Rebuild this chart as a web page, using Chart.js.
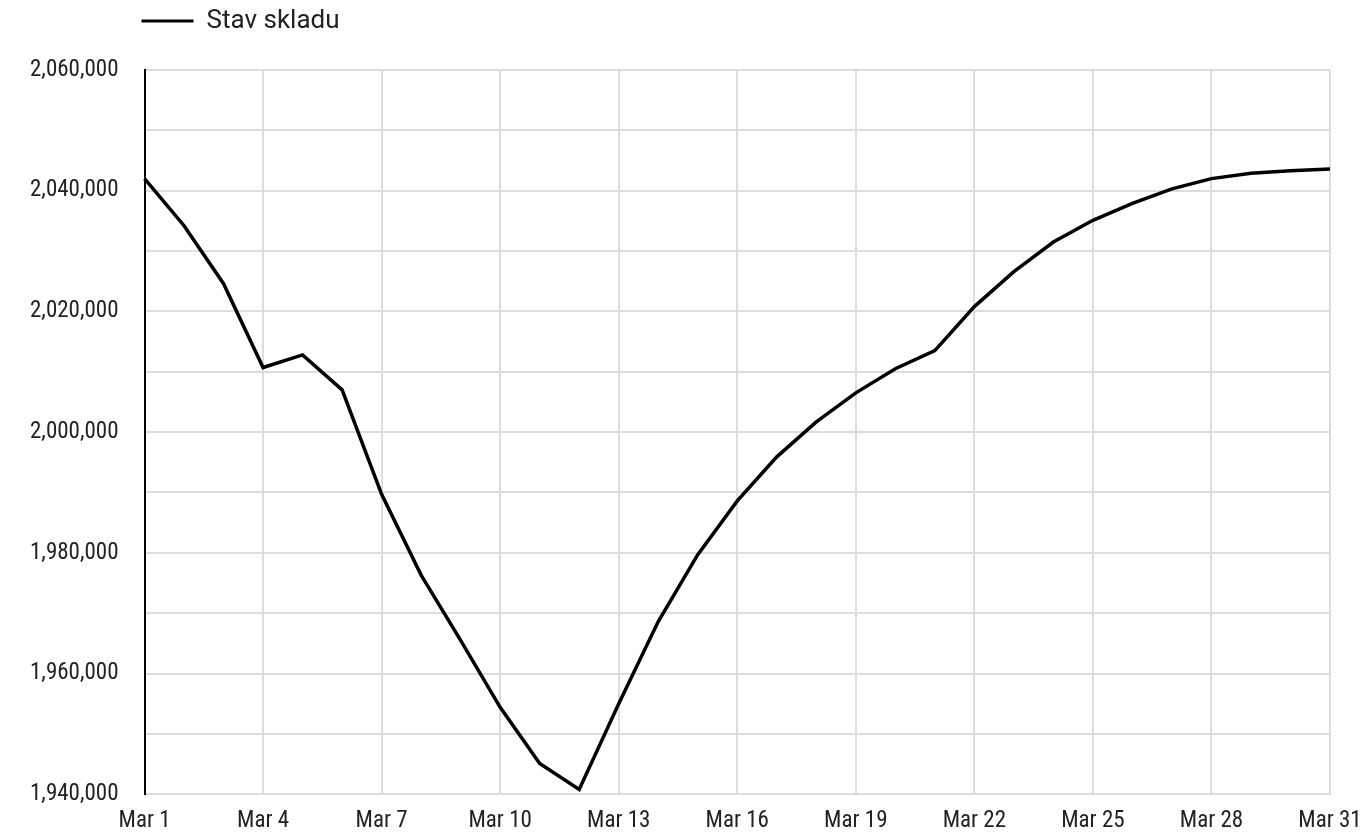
<!DOCTYPE html>
<html lang="cs">

<head>
    <meta charset="UTF-8">
    <title>Stav skladu</title>
    <style>
        html, body {
            margin: 0;
            padding: 0;
            background: #fff;
        }

        #wrap {
            width: 1367px;
            height: 834px;
        }
    </style>
</head>

<body>
    <div id="wrap"><canvas id="stockChart"></canvas></div>

    <script src="https://cdn.jsdelivr.net/npm/chart.js"></script>

    <script>
        // Daily stock level for March
        const days = [
            'Mar 1', 'Mar 2', 'Mar 3', 'Mar 4', 'Mar 5', 'Mar 6', 'Mar 7', 'Mar 8',
            'Mar 9', 'Mar 10', 'Mar 11', 'Mar 12', 'Mar 13', 'Mar 14', 'Mar 15', 'Mar 16',
            'Mar 17', 'Mar 18', 'Mar 19', 'Mar 20', 'Mar 21', 'Mar 22', 'Mar 23', 'Mar 24',
            'Mar 25', 'Mar 26', 'Mar 27', 'Mar 28', 'Mar 29', 'Mar 30', 'Mar 31'
        ];
        const stockLevel = [
            2042000, 2034200, 2024600, 2010700, 2012800, 2007000, 1989700, 1976300,
            1965500, 1954400, 1945100, 1940800, 1955000, 1968600, 1979700, 1988600,
            1995900, 2001700, 2006500, 2010500, 2013500, 2020800, 2026600, 2031500,
            2035100, 2037900, 2040300, 2042000, 2042900, 2043300, 2043600
        ];
        const seriesName = 'Stav skladu';

        const textColor = '#222';
        const gridColor = '#dcdcdc';
        const tickFamily = "'Roboto Condensed', 'DejaVu Sans Condensed', 'Liberation Sans Narrow', Roboto";

        // legend sits flush with the plot's left edge, with extra room below it
        const legendSpacing = {
            id: 'legendSpacing',
            beforeInit(chart) {
                const legend = chart.legend;
                const fit = legend.fit;
                legend.fit = function () {
                    fit.call(this);
                    this.height += 26;
                };
            },
            afterLayout(chart) {
                chart.legend.left = chart.chartArea.left - 11;
            }
        };

        const ctx = document.getElementById('stockChart').getContext('2d');
        const stockChart = new Chart(ctx, {
            type: 'line',
            data: {
                labels: days,
                datasets: [{
                    label: seriesName,
                    data: stockLevel,
                    borderColor: '#000',
                    backgroundColor: '#000',
                    borderWidth: 3.5,
                    pointRadius: 0,
                    tension: 0,
                    fill: false
                }]
            },
            options: {
                responsive: true,
                maintainAspectRatio: false,
                animation: false,
                layout: {
                    padding: { top: 0, left: 4, right: 0, bottom: 0 }
                },
                plugins: {
                    legend: {
                        position: 'top',
                        align: 'start',
                        labels: {
                            color: textColor,
                            font: { family: 'Roboto', size: 26 },
                            boxWidth: 52,
                            boxHeight: 3,
                            padding: 8,
                            generateLabels(chart) {
                                return Chart.defaults.plugins.legend.labels.generateLabels(chart)
                                    .map(item => Object.assign(item, { lineWidth: 0 }));
                            }
                        }
                    },
                    tooltip: { enabled: false }
                },
                scales: {
                    x: {
                        afterFit(scale) {
                            scale.height = 39;
                            scale.paddingRight = 37;
                        },
                        grid: {
                            drawTicks: false,
                            lineWidth: 2,
                            color: c => (c.index % 3 === 0 ? gridColor : 'rgba(0,0,0,0)')
                        },
                        border: { color: gridColor, width: 2 },
                        ticks: {
                            autoSkip: false,
                            maxRotation: 0,
                            padding: 13,
                            color: textColor,
                            font: { family: tickFamily, size: 23 },
                            callback: function (value, index) {
                                return index % 3 === 0 ? this.getLabelForValue(value) : '';
                            }
                        }
                    },
                    y: {
                        min: 1940000,
                        max: 2060000,
                        grid: {
                            drawTicks: false,
                            lineWidth: 2,
                            color: gridColor
                        },
                        border: { color: '#000', width: 2 },
                        ticks: {
                            stepSize: 10000,
                            padding: 26,
                            color: textColor,
                            font: { family: tickFamily, size: 23 },
                            callback: value => (value % 20000 === 0 ? value.toLocaleString('en-US') : '')
                        }
                    }
                }
            },
            plugins: [legendSpacing]
        });
    </script>
</body>

</html>
